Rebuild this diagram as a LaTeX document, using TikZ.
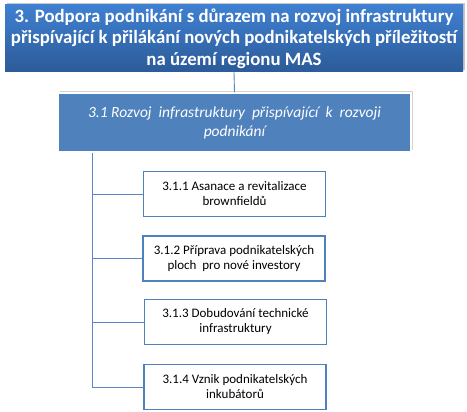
\documentclass[tikz,border=0pt]{standalone}
\usepackage{fontspec}
\setmainfont{Carlito}
\usetikzlibrary{shadows}
\definecolor{topA}{HTML}{3F80D2}
\definecolor{topB}{HTML}{2C5B98}
\definecolor{midblue}{HTML}{4F81BD}
\definecolor{linec}{HTML}{5B85BF}
\begin{document}
\begin{tikzpicture}[x=1pt,y=-1pt,
  topbox/.style={draw=none,top color=topA,bottom color=topB,minimum width=458pt,minimum height=67pt,inner sep=0pt,align=center,text=white,font=\fontsize{18.8}{21.5}\selectfont\bfseries,drop shadow={shadow xshift=1.5pt,shadow yshift=2pt,opacity=0.45}},
  midbox/.style={fill=midblue,draw=white,line width=1.5pt,minimum width=353pt,minimum height=59pt,inner sep=0pt,align=center,text=white,font=\fontsize{15.5}{19}\selectfont\itshape,drop shadow={shadow xshift=1.5pt,shadow yshift=2pt,opacity=0.35}},
  leafbox/.style={fill=white,draw=midblue,line width=1.6pt,minimum width=182pt,minimum height=45pt,inner sep=0pt,align=center,text=black,font=\fontsize{13}{15}\selectfont},
  conn/.style={draw=linec,line width=0.9pt}]
\useasboundingbox (0,0) rectangle (467,412);
\node[topbox] (top) at (234,38.5) {3. Podpora podnikání s důrazem na rozvoj infrastruktury\\přispívající k přilákání nových podnikatelských příležitostí\\na území regionu MAS};
\node[midbox] (mid) at (234.5,122.5) {3.1 Rozvoj\ \ infrastruktury\ \ přispívající\ \ k\ \ rozvoji\\podnikání};
\node[leafbox] (a) at (234.5,194) {3.1.1 Asanace a revitalizace\\brownfieldů};
\node[leafbox] (b) at (234,258.5) {3.1.2 Příprava podnikatelských\\ploch\ \ pro nové\ investory};
\node[leafbox] (c) at (235.5,322) {3.1.3 Dobudování technické\\infrastruktury};
\node[leafbox] (d) at (235,387) {3.1.4 Vznik podnikatelských\\inkubátorů};
\draw[conn] (top.south) -- (mid.north);
\coordinate (trunk) at ([xshift=-142.5pt]mid.south);
\draw[conn] (trunk) |- (d.west);
\foreach \n in {a,b,c} \draw[conn] (trunk |- \n.west) -- (\n.west);
\end{tikzpicture}
\end{document}
